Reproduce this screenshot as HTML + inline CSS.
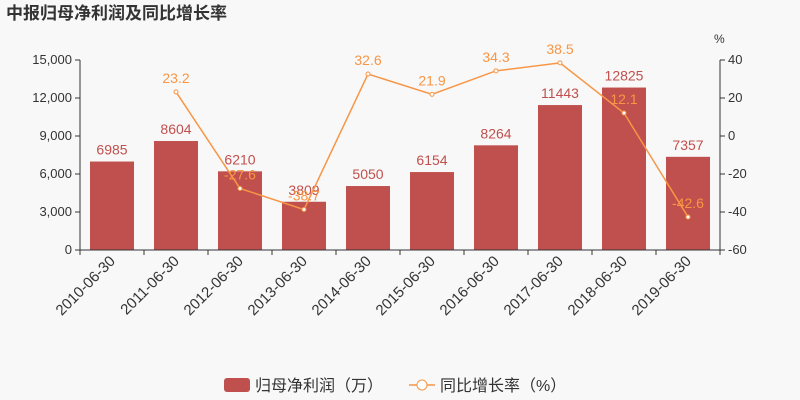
<!DOCTYPE html>
<html><head><meta charset="utf-8"><style>
body{margin:0;background:#f8f8f8;}
svg{display:block;font-family:"Liberation Sans","Noto Sans CJK SC",sans-serif;}
</style></head><body>
<svg id="c" width="800" height="400">
<rect width="800" height="400" fill="#f8f8f8"/>
<text x="6" y="19" font-size="17" font-weight="bold" fill="#333">中报归母净利润及同比增长率</text>
<text x="714" y="43" font-size="12" fill="#333">%</text>
<g id="g"></g>
<g>
<rect x="224" y="378" width="26" height="14" rx="3" fill="#c0504d"/>
<text x="255" y="391" font-size="16" fill="#333">归母净利润（万）</text>
<line x1="409" y1="385" x2="435" y2="385" stroke="#f79646" stroke-width="1.5"/>
<circle cx="422" cy="385" r="5" fill="#fff" stroke="#f79646"/>
<text x="440" y="391" font-size="16" fill="#333">同比增长率（%）</text>
</g>
</svg>
<script>
const categories=["2010-06-30","2011-06-30","2012-06-30","2013-06-30","2014-06-30","2015-06-30","2016-06-30","2017-06-30","2018-06-30","2019-06-30"];
const profit=[6985,8604,6210,3809,5050,6154,8264,11443,12825,7357];
const growth=[null,23.2,-27.6,-38.7,32.6,21.9,34.3,38.5,12.1,-42.6];
const leftTicks=[0,3000,6000,9000,12000,15000];
const rightTicks=[-60,-40,-20,0,20,40];
const L=80,R=720,T=60,B=250;
const yL=v=>B-(v/15000)*(B-T);
const yR=v=>B-((v+60)/100)*(B-T);
const bw=(R-L)/categories.length;
const xC=i=>L+bw*(i+0.5);
const g=document.getElementById('g');
const NS="http://www.w3.org/2000/svg";
function mk(t,a,txt){const e=document.createElementNS(NS,t);for(const k in a)e.setAttribute(k,a[k]);if(txt!=null)e.textContent=txt;g.appendChild(e);return e;}
leftTicks.forEach(v=>{
 const e=mk('text',{x:L-8,y:yL(v)+4,'font-size':13,fill:'#333','text-anchor':'end'},v.toLocaleString('en-US'));
 
 
 mk('line',{x1:L-5,x2:L,y1:yL(v),y2:yL(v),stroke:'#333'});
});
rightTicks.forEach(v=>{
 const e=mk('text',{x:R+8,y:yR(v)+4,'font-size':13,fill:'#333'},String(v));
 
 
 mk('line',{x1:R,x2:R+5,y1:yR(v),y2:yR(v),stroke:'#333'});
});
mk('line',{x1:L,x2:L,y1:T,y2:B,stroke:'#333'});
mk('line',{x1:R,x2:R,y1:T,y2:B,stroke:'#333'});
profit.forEach((v,i)=>{
 const r=mk('rect',{x:xC(i)-22,y:yL(v),width:44,height:B-yL(v),fill:'#c0504d'});
 
 
 const t=mk('text',{x:xC(i),y:yL(v)-7,'font-size':14,fill:'#c0504d','text-anchor':'middle'},String(v));
 
 
});
mk('line',{x1:L,x2:R,y1:B,y2:B,stroke:'#333'});
categories.forEach((c,i)=>{
 mk('line',{x1:L+bw*i,x2:L+bw*i,y1:B,y2:B+5,stroke:'#333'});
 const t=mk('text',{x:xC(i)+4,y:B+12,'font-size':15,fill:'#333','text-anchor':'end',transform:`rotate(-45 ${xC(i)+4} ${B+12})`},c);
 
 
});
mk('line',{x1:R,x2:R,y1:B,y2:B+5,stroke:'#333'});
let pts=[];growth.forEach((v,i)=>{if(v!=null)pts.push(xC(i)+','+yR(v));});
const pl=mk('polyline',{points:pts.join(' '),fill:'none',stroke:'#f79646','stroke-width':1.5});


growth.forEach((v,i)=>{if(v==null)return;
 const c=mk('circle',{cx:xC(i),cy:yR(v),r:2,fill:'#fff',stroke:'#f79646'});
 
 
 const t=mk('text',{x:xC(i),y:yR(v)-9,'font-size':14,fill:'#f79646','text-anchor':'middle'},String(v));
 
 
});
</script>
</body></html>
